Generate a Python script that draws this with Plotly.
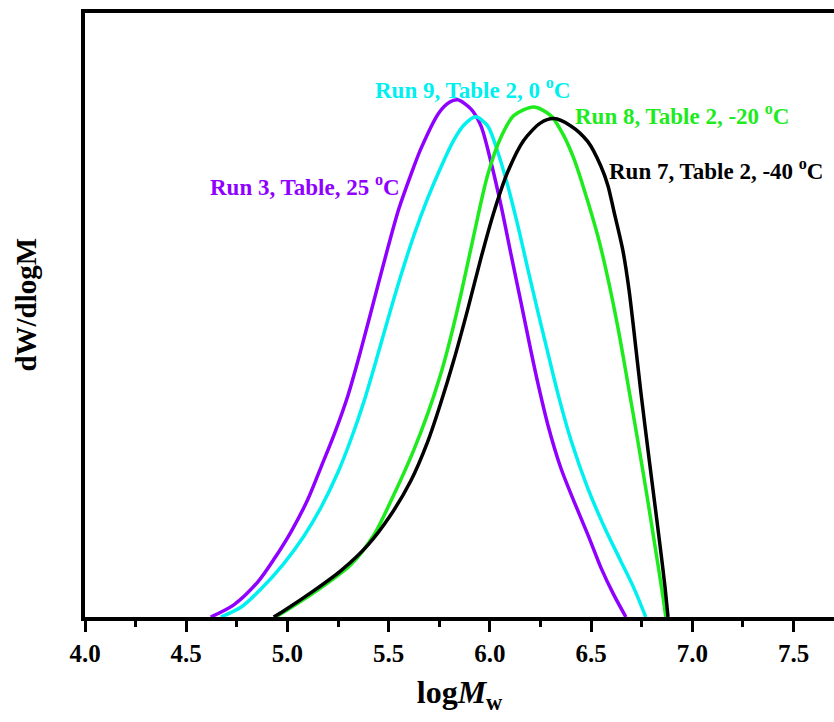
import plotly.graph_objects as go

# logMw values and dW/dlogM (normalised)
run3_x = [4.621, 4.735, 4.854, 4.933, 5.017, 5.101, 5.166, 5.230, 5.299, 5.363, 5.446, 5.496, 5.550,
          5.609, 5.660, 5.747, 5.800, 5.841, 5.906, 5.956, 6.005, 6.055, 6.104, 6.154, 6.203, 6.238,
          6.287, 6.351, 6.415, 6.485, 6.549, 6.613, 6.672]
run3_y = [0.0, 0.020, 0.058, 0.095, 0.140, 0.194, 0.247, 0.300, 0.365, 0.440, 0.545, 0.608, 0.672,
          0.728, 0.772, 0.830, 0.848, 0.852, 0.837, 0.809, 0.750, 0.678, 0.598, 0.518, 0.438, 0.384,
          0.316, 0.245, 0.191, 0.135, 0.081, 0.036, 0.0]

run9_x = [4.671, 4.770, 4.869, 4.982, 5.081, 5.165, 5.249, 5.313, 5.377, 5.436, 5.496, 5.560, 5.624,
          5.693, 5.757, 5.821, 5.871, 5.930, 5.989, 6.039, 6.088, 6.138, 6.187, 6.237, 6.286, 6.336,
          6.400, 6.484, 6.563, 6.647, 6.711, 6.770]
run9_y = [0.0, 0.016, 0.046, 0.088, 0.133, 0.180, 0.238, 0.292, 0.354, 0.420, 0.490, 0.562, 0.628,
          0.690, 0.740, 0.785, 0.810, 0.824, 0.809, 0.766, 0.711, 0.645, 0.574, 0.503, 0.436, 0.368,
          0.292, 0.212, 0.150, 0.092, 0.048, 0.0]

run8_x = [4.942, 5.016, 5.165, 5.313, 5.427, 5.525, 5.624, 5.693, 5.757, 5.792, 5.856, 5.920, 5.989,
          6.054, 6.118, 6.217, 6.301, 6.365, 6.415, 6.464, 6.533, 6.583, 6.632, 6.657, 6.681, 6.731,
          6.780, 6.820, 6.854, 6.869]
run8_y = [0.0, 0.015, 0.048, 0.086, 0.135, 0.201, 0.275, 0.335, 0.400, 0.442, 0.530, 0.628, 0.728,
          0.790, 0.826, 0.840, 0.826, 0.793, 0.755, 0.706, 0.628, 0.558, 0.478, 0.432, 0.386, 0.290,
          0.192, 0.108, 0.036, 0.0]

run7_x = [4.932, 4.981, 5.129, 5.263, 5.396, 5.510, 5.609, 5.693, 5.757, 5.821, 5.890, 5.955, 6.019,
          6.088, 6.167, 6.251, 6.316, 6.400, 6.484, 6.548, 6.583, 6.613, 6.657, 6.687, 6.712, 6.746,
          6.786, 6.821, 6.845, 6.865, 6.880]
run7_y = [0.0, 0.010, 0.043, 0.076, 0.118, 0.168, 0.224, 0.289, 0.352, 0.422, 0.506, 0.590, 0.666,
          0.733, 0.785, 0.814, 0.821, 0.809, 0.783, 0.743, 0.711, 0.668, 0.604, 0.540, 0.470, 0.370,
          0.262, 0.170, 0.106, 0.050, 0.0]

tick_vals = [4.0, 4.5, 5.0, 5.5, 6.0, 6.5, 7.0, 7.5]
tick_text = ["4.0", "4.5", "5.0", "5.5", "6.0", "6.5", "7.0", "7.5"]

series = [
    (run3_x, run3_y, "#8F00FF", "Run 3, Table, 25 <sup>o</sup>C"),
    (run9_x, run9_y, "#00F0F0", "Run 9, Table 2, 0 <sup>o</sup>C"),
    (run8_x, run8_y, "#1EEB1E", "Run 8, Table 2, -20 <sup>o</sup>C"),
    (run7_x, run7_y, "#000000", "Run 7, Table 2, -40 <sup>o</sup>C"),
]

FONT = "Liberation Serif, Times New Roman, serif"

fig = go.Figure()
for xs, ys, col, name in series:
    fig.add_trace(go.Scatter(x=xs, y=ys, mode="lines", name=name,
                             line=dict(color=col, width=3.5, shape="spline", smoothing=0.8),
                             showlegend=False, hoverinfo="skip"))

annots = [
    dict(x=5.566, y=0.711, text="<b>Run 3, Table, 25 <sup>o</sup>C</b>", color="#8F00FF", xanchor="right"),
    dict(x=5.915, y=0.870, text="<b>Run 9, Table 2, 0 <sup>o</sup>C</b>", color="#00F0F0", xanchor="center"),
    dict(x=6.409, y=0.827, text="<b>Run 8, Table 2, -20 <sup>o</sup>C</b>", color="#1EEB1E", xanchor="left"),
    dict(x=6.578, y=0.738, text="<b>Run 7, Table 2, -40 <sup>o</sup>C</b>", color="#000000", xanchor="left"),
]
for a in annots:
    fig.add_annotation(x=a["x"], y=a["y"], xref="x", yref="y", text=a["text"], showarrow=False,
                       xanchor=a["xanchor"], yanchor="middle",
                       font=dict(family=FONT, size=23, color=a["color"]))

# y-axis title as rotated text
fig.add_annotation(x=-0.079, y=0.517, xref="paper", yref="paper", text="<b>dW/dlogM</b>",
                   textangle=-90, showarrow=False, xanchor="center", yanchor="middle",
                   font=dict(family=FONT, size=29, color="black"))

fig.update_layout(
    width=834, height=722,
    margin=dict(l=85, r=0, t=13, b=105),
    paper_bgcolor="white", plot_bgcolor="white",
    font=dict(family=FONT, color="black"),
    xaxis=dict(range=[4.0, 7.70], tickvals=tick_vals, ticktext=tick_text,
               ticks="outside", ticklen=11, tickwidth=3, tickcolor="black",
               minor=dict(ticks="outside", ticklen=6, tickwidth=3, tickcolor="black", dtick=0.25, tick0=4.0),
               showline=True, linewidth=4, linecolor="black", mirror=True,
               showgrid=False, zeroline=False,
               tickfont=dict(family=FONT, size=25, color="black", weight="bold"),
               title=dict(text="<b>log<i>M</i><sub>w</sub></b>", font=dict(family=FONT, size=32, color="black"),
                          standoff=16)),
    yaxis=dict(range=[0, 0.995], showticklabels=False, ticks="",
               showline=True, linewidth=4, linecolor="black", mirror=False,
               showgrid=False, zeroline=False),
)

fig.write_html("out.html")
